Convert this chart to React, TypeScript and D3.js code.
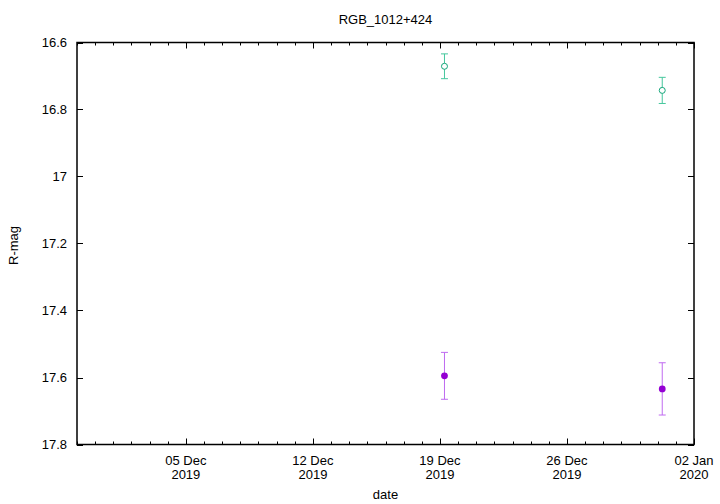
import React from "react";
import * as d3 from "d3";

const title = "RGB_1012+424";
const xLabel = "date";
const yLabel = "R-mag";
const obsDates = ["2019-12-19T06:00:00Z", "2019-12-31T06:00:00Z"];
const greenMag = [16.671, 16.743];
const greenErr = [0.037, 0.039];
const purpleMag = [17.595, 17.634];
const purpleErr = [0.07, 0.078];
const xDomain = ["2019-11-29T00:00:00Z", "2020-01-02T00:00:00Z"];
const yDomain = [16.6, 17.8];
const yTickValues = [16.6, 16.8, 17, 17.2, 17.4, 17.6, 17.8];

const W = 720, H = 504;
const L = 77, R = 694, T = 42.5, B = 444.5;
const FONT = "'Liberation Sans', Arial, Helvetica, sans-serif";

export default function App() {
  const x = d3.scaleUtc().domain(xDomain.map((d) => new Date(d))).range([L, R]);
  const y = d3.scaleLinear().domain(yDomain).range([T, B]);
  const dayTicks = d3.utcDay.range(new Date(xDomain[0]), d3.utcDay.offset(new Date(xDomain[1]), 1));
  const majorTicks = dayTicks.filter((d) => Math.round((+d - +new Date("2019-12-05T00:00:00Z")) / 864e5) % 7 === 0);
  const fmt1 = d3.utcFormat("%d %b");
  const fmt2 = d3.utcFormat("%Y");
  const dates = obsDates.map((d) => new Date(d));

  const series = [
    { mag: greenMag, err: greenErr, bar: "#45c79d", pt: "#14a67a", filled: false },
    { mag: purpleMag, err: purpleErr, bar: "#bf6af0", pt: "#9400d3", filled: true },
  ];

  return (
    <svg width={W} height={H} style={{ position: "absolute", left: 0, top: 0, background: "#fff" }} fontFamily={FONT}>
      <rect x={0} y={0} width={W} height={H} fill="#fff" />
      {dayTicks.map((d, i) => {
        const major = majorTicks.some((m) => +m === +d);
        const len = major ? 6 : 3;
        const xx = Math.round(x(d)) + 0.5;
        return (
          <g key={"xt" + i} stroke="#000" strokeWidth={1}>
            <line x1={xx} x2={xx} y1={B} y2={B - len} />
            <line x1={xx} x2={xx} y1={T} y2={T + len} />
          </g>
        );
      })}
      {majorTicks.map((d, i) => (
        <g key={"xl" + i} fontSize={13} textAnchor="middle" fill="#000">
          <text x={x(d)} y={464.5}>{fmt1(d)}</text>
          <text x={x(d)} y={478.5}>{fmt2(d)}</text>
        </g>
      ))}
      {yTickValues.map((v, i) => {
        const yy = Math.round(y(v)) + 0.5;
        return (
          <g key={"yt" + i}>
            <line x1={L} x2={L + 6} y1={yy} y2={yy} stroke="#000" />
            <line x1={R} x2={R - 6} y1={yy} y2={yy} stroke="#000" />
            <text x={67} y={y(v) + 4.8} fontSize={13} textAnchor="end" fill="#000">{String(v)}</text>
          </g>
        );
      })}
      <rect x={L} y={T} width={R - L} height={B - T} fill="none" stroke="#000" strokeWidth={1.5} />
      {series.map((s, si) =>
        dates.map((d, i) => {
          const cx = x(d);
          const cy = y(s.mag[i]);
          const y1 = y(s.mag[i] - s.err[i]);
          const y2 = y(s.mag[i] + s.err[i]);
          return (
            <g key={"p" + si + "-" + i}>
              <line x1={cx} x2={cx} y1={y1} y2={y2} stroke={s.bar} strokeWidth={1} />
              <line x1={cx - 3.5} x2={cx + 3.5} y1={y1} y2={y1} stroke={s.bar} strokeWidth={1} />
              <line x1={cx - 3.5} x2={cx + 3.5} y1={y2} y2={y2} stroke={s.bar} strokeWidth={1} />
              {s.filled ? (
                <circle cx={cx} cy={cy} r={3.4} fill={s.pt} />
              ) : (
                <circle cx={cx} cy={cy} r={3} fill="#fff" stroke={s.pt} strokeWidth={1} />
              )}
            </g>
          );
        })
      )}
      <text x={(L + R) / 2} y={24} fontSize={13} textAnchor="middle" fill="#000">{title}</text>
      <text x={(L + R) / 2} y={499} fontSize={13} textAnchor="middle" fill="#000">{xLabel}</text>
      <text transform={`translate(18,245.5) rotate(-90)`} fontSize={13} textAnchor="middle" fill="#000">{yLabel}</text>
    </svg>
  );
}
